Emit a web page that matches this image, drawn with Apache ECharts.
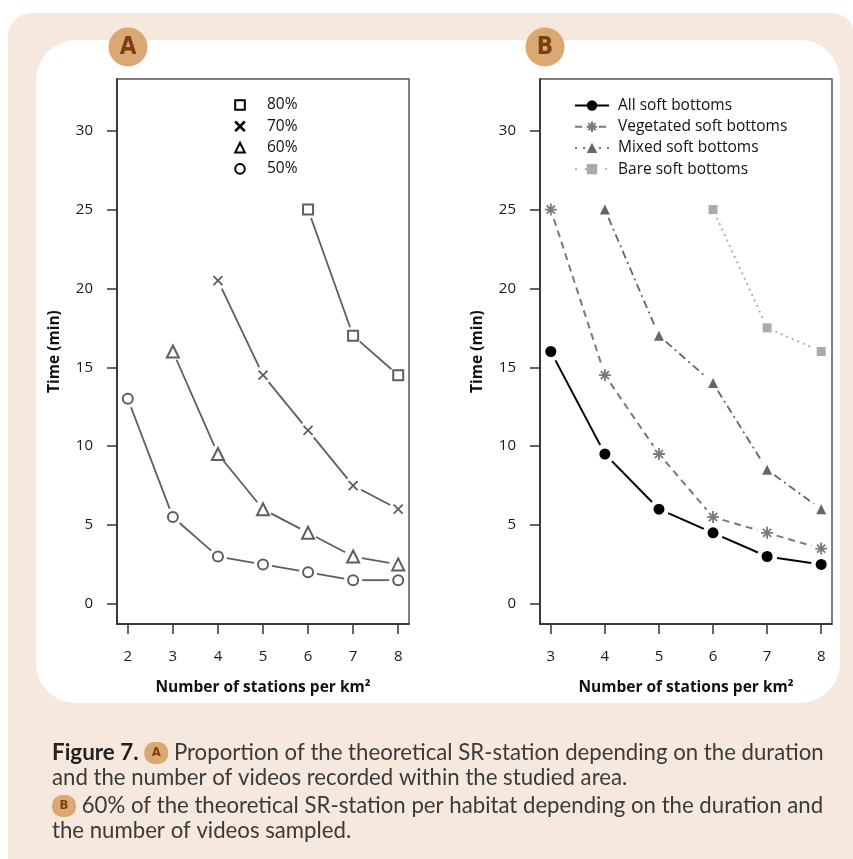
<!DOCTYPE html>
<html><head><meta charset="utf-8">
<script src="https://cdn.jsdelivr.net/npm/echarts@6/dist/echarts.min.js"></script>
<style>html,body{margin:0;padding:0;background:#fff}#c{width:853px;height:859px}</style>
</head><body><div id="c"></div>
<script>
// ---- Panel A data ----
const xA80 = [6, 7, 8];             const yA80 = [25, 17, 14.5];
const xA70 = [4, 5, 6, 7, 8];       const yA70 = [20.5, 14.5, 11, 7.5, 6];
const xA60 = [3, 4, 5, 6, 7, 8];    const yA60 = [16, 9.5, 6, 4.5, 3, 2.5];
const xA50 = [2, 3, 4, 5, 6, 7, 8]; const yA50 = [13, 5.5, 3, 2.5, 2, 1.5, 1.5];
// ---- Panel B data ----
const xAll  = [3, 4, 5, 6, 7, 8]; const yAll  = [16, 9.5, 6, 4.5, 3, 2.5];
const xVeg  = [3, 4, 5, 6, 7, 8]; const yVeg  = [25, 14.5, 9.5, 5.5, 4.5, 3.5];
const xMix  = [4, 5, 6, 7, 8];    const yMix  = [25, 17, 14, 8.5, 6];
const xBare = [6, 7, 8];          const yBare = [25, 17.5, 16];
// ---- ticks / labels ----
const xTicksA = [2, 3, 4, 5, 6, 7, 8];
const xTicksB = [3, 4, 5, 6, 7, 8];
const yTicks = [0, 5, 10, 15, 20, 25, 30];
const namesA = ['80%', '70%', '60%', '50%'];
const namesB = ['All soft bottoms', 'Vegetated soft bottoms', 'Mixed soft bottoms', 'Bare soft bottoms'];
const xTitle = 'Number of stations per km²';
const yTitle = 'Time (min)';

const FONT = 'Open Sans';
const pairs = (xs, ys) => xs.map((x, i) => [x, ys[i]]);

function segSeries(id, xs, ys, gi, color, dash, width, gap) {
  return {
    type: 'custom', name: id, xAxisIndex: gi, yAxisIndex: gi, z: 2, silent: true,
    data: pairs(xs, ys), encode: { x: 0, y: 1 },
    renderItem(params, api) {
      const i = params.dataIndex;
      if (i === 0) return null;
      const p0 = api.coord([xs[i - 1], ys[i - 1]]);
      const p1 = api.coord([api.value(0), api.value(1)]);
      const dx = p1[0] - p0[0], dy = p1[1] - p0[1];
      const L = Math.hypot(dx, dy);
      if (L <= 2 * gap) return null;
      const ux = dx / L, uy = dy / L;
      return {
        type: 'line',
        shape: { x1: p0[0] + ux * gap, y1: p0[1] + uy * gap, x2: p1[0] - ux * gap, y2: p1[1] - uy * gap },
        style: { stroke: color, lineWidth: width, lineDash: dash }
      };
    }
  };
}
function markSeries(name, xs, ys, gi, symbol, size, itemStyle) {
  return {
    type: 'line', name, xAxisIndex: gi, yAxisIndex: gi, z: 3, silent: true,
    data: pairs(xs, ys), symbol, symbolSize: size, showSymbol: true,
    itemStyle, lineStyle: { width: 0, opacity: 0 }, emphasis: { disabled: true }
  };
}

const X_PATH = 'path://M0,0L10,10M10,0L0,10';
const AST_PATH = 'path://M5,0L5,10M0,5L10,5M1.6,1.6L8.4,8.4M8.4,1.6L1.6,8.4';
const gA = '#5e5e5e';

const series = [
  segSeries('s80', xA80, yA80, 0, gA, null, 1.8, 9),
  segSeries('s70', xA70, yA70, 0, gA, null, 1.8, 9),
  segSeries('s60', xA60, yA60, 0, gA, null, 1.8, 9),
  segSeries('s50', xA50, yA50, 0, gA, null, 1.8, 9),
  markSeries(namesA[0], xA80, yA80, 0, 'emptyRect', 10, { color: gA, borderColor: gA, borderWidth: 1.8 }),
  markSeries(namesA[1], xA70, yA70, 0, X_PATH, 9, { color: gA, borderColor: gA, borderWidth: 1.8 }),
  markSeries(namesA[2], xA60, yA60, 0, 'emptyTriangle', 12, { color: gA, borderColor: gA, borderWidth: 1.8 }),
  markSeries(namesA[3], xA50, yA50, 0, 'emptyCircle', 10, { color: gA, borderColor: gA, borderWidth: 1.8 }),

  segSeries('sAll', xAll, yAll, 1, '#000', null, 2, 10),
  segSeries('sVeg', xVeg, yVeg, 1, '#7a7a7a', [7, 5], 2, 10),
  segSeries('sMix', xMix, yMix, 1, '#666', [8, 4, 2, 4], 1.8, 9),
  segSeries('sBare', xBare, yBare, 1, '#ababab', [2, 4], 1.8, 9),
  markSeries(namesB[0], xAll, yAll, 1, 'circle', 11, { color: '#000' }),
  markSeries(namesB[1], xVeg, yVeg, 1, AST_PATH, 12, { color: '#7a7a7a', borderColor: '#7a7a7a', borderWidth: 1.8 }),
  markSeries(namesB[2], xMix, yMix, 1, 'triangle', 10, { color: '#666' }),
  markSeries(namesB[3], xBare, yBare, 1, 'rect', 9, { color: '#ababab' })
];

function xAxisCfg(gi, min, max, ticks) {
  return {
    type: 'value', gridIndex: gi, min, max,
    name: xTitle, nameLocation: 'middle', nameGap: 56,
    nameTextStyle: { fontFamily: FONT, fontWeight: 'bold', fontSize: 15.5, color: '#111' },
    axisLine: { show: true, onZero: false, lineStyle: { color: '#222', width: 1.5 } },
    axisTick: { show: true, length: 10, inside: false, customValues: ticks, lineStyle: { color: '#333', width: 1.5 } },
    axisLabel: { customValues: ticks, margin: 25, fontFamily: FONT, fontSize: 15, color: '#1a1a1a' },
    splitLine: { show: false }
  };
}
function yAxisCfg(gi) {
  return {
    type: 'value', gridIndex: gi, min: -1.28, max: 33.28,
    name: yTitle, nameLocation: 'middle', nameGap: 54,
    nameTextStyle: { fontFamily: FONT, fontWeight: 'bold', fontSize: 15.5, color: '#111' },
    axisLine: { show: true, onZero: false, lineStyle: { color: '#222', width: 1.5 } },
    axisTick: { show: true, length: 10, inside: false, customValues: yTicks, lineStyle: { color: '#333', width: 1.5 } },
    axisLabel: { customValues: yTicks, margin: 24, fontFamily: FONT, fontSize: 15, color: '#1a1a1a' },
    splitLine: { show: false }
  };
}

const badgeRich = {
  f: { fontFamily: 'Lato', fontWeight: 'bold', fontSize: 22.4, fill: '#222', color: '#222' },
  a: { backgroundColor: '#dba873', borderRadius: 10, width: 18, height: 20, lineHeight: 20, align: 'center', padding: [1, 3, 1, 3],
       color: '#7b3f10', fill: '#7b3f10', fontWeight: 'bold', fontSize: 13, fontFamily: 'DejaVu Sans Condensed' }
};
function capLine(text, y) {
  return { type: 'text', x: 52, y, z: 10, silent: true,
    style: { text, rich: badgeRich, fill: '#3a3a3a', fontFamily: 'Lato', fontSize: 22.2, verticalAlign: 'middle', align: 'left' } };
}
function bigBadge(cx, letter) {
  return [
    { type: 'circle', shape: { cx, cy: 47, r: 19.5 }, style: { fill: '#dba873' }, z: 5, silent: true },
    { type: 'text', x: cx, y: 48, z: 6, silent: true,
      style: { text: letter, fill: '#7b3f10', fontFamily: 'DejaVu Sans Condensed', fontWeight: 'bold', fontSize: 24,
               align: 'center', verticalAlign: 'middle' } }
  ];
}

const option = {
  animation: false,
  backgroundColor: '#fff',
  textStyle: { fontFamily: FONT },
  graphic: [
    { type: 'rect', shape: { x: 8, y: 13, width: 847, height: 900, r: 24 }, style: { fill: '#f6e8dc' }, z: -20, silent: true },
    { type: 'rect', shape: { x: 36, y: 40, width: 804, height: 663, r: 40 }, style: { fill: '#ffffff' }, z: -19, silent: true },
    ...bigBadge(128, 'A'),
    ...bigBadge(545, 'B'),
    capLine('{f|Figure 7.} {a|A} Proportion of the theoretical SR-station depending on the duration', 753),
    capLine('and the number of videos recorded within the studied area.', 778),
    capLine('{a|B} 60% of the theoretical SR-station per habitat depending on the duration and', 806),
    capLine('the number of videos sampled.', 831)
  ],
  grid: [
    { left: 117, top: 79, width: 292, height: 545, show: true, borderColor: '#555', borderWidth: 1.5, backgroundColor: 'transparent' },
    { left: 540, top: 79, width: 292, height: 545, show: true, borderColor: '#555', borderWidth: 1.5, backgroundColor: 'transparent' }
  ],
  xAxis: [xAxisCfg(0, 1.76, 8.24, xTicksA), xAxisCfg(1, 2.8, 8.2, xTicksB)],
  yAxis: [yAxisCfg(0), yAxisCfg(1)],
  legend: [
    {
      orient: 'vertical', left: 213, top: 91.5, itemWidth: 44, itemHeight: 12, itemGap: 4.3,
      selectedMode: false,
      textStyle: { fontFamily: FONT, fontSize: 15.5, color: '#111', lineHeight: 17 },
      data: namesA.map(n => ({ name: n, itemStyle: { color: '#000', borderColor: '#000', borderWidth: 2.6 }, lineStyle: { opacity: 0 } }))
    },
    {
      orient: 'vertical', left: 569, top: 92, itemWidth: 34, itemHeight: 13, itemGap: 4.2,
      selectedMode: false,
      textStyle: { fontFamily: FONT, fontSize: 15.5, color: '#111', lineHeight: 17, padding: [0, 0, 0, 4] },
      data: [
        { name: namesB[0], lineStyle: { color: '#000', width: 2, opacity: 1, type: 'solid' } },
        { name: namesB[1], lineStyle: { color: '#7a7a7a', width: 2, opacity: 1, type: [7, 5] } },
        { name: namesB[2], lineStyle: { color: '#666', width: 1.8, opacity: 1, type: [2, 6] } },
        { name: namesB[3], lineStyle: { color: '#ababab', width: 1.8, opacity: 1, type: [2, 8] } }
      ]
    }
  ],
  series
};

const chart = echarts.init(document.getElementById('c'), null, { renderer: 'canvas' });
chart.setOption(option);
</script>
</body></html>
